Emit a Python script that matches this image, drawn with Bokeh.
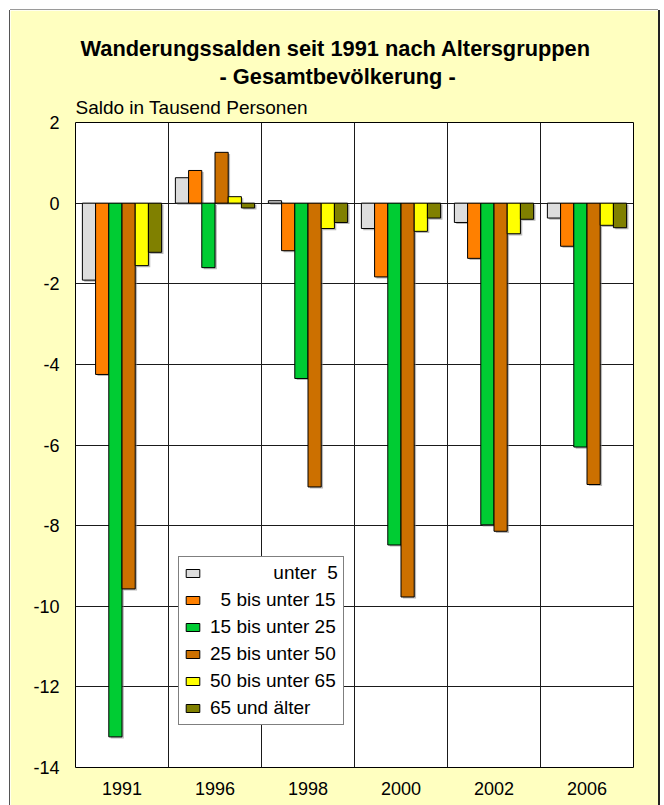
from bokeh.plotting import figure
from bokeh.models import Range1d, FixedTicker, Title, Legend, LegendItem, ColumnDataSource
from bokeh.embed import file_html
from bokeh.resources import INLINE

years = ["1991", "1996", "1998", "2000", "2002", "2006"]
groups = ["            unter  5", "  5 bis unter 15", "15 bis unter 25",
          "25 bis unter 50", "50 bis unter 65", "65 und älter"]
colors = ["#DDDDDD", "#FF8000", "#00CC33", "#CC7000", "#FFFF00", "#808000"]

unter_5 = [-1.91, 0.63, 0.06, -0.63, -0.48, -0.37]
von_5_bis_15 = [-4.25, 0.81, -1.18, -1.83, -1.37, -1.07]
von_15_bis_25 = [-13.24, -1.60, -4.35, -8.48, -7.98, -6.05]
von_25_bis_50 = [-9.57, 1.26, -7.04, -9.77, -8.14, -6.98]
von_50_bis_65 = [-1.55, 0.16, -0.63, -0.70, -0.76, -0.55]
ab_65 = [-1.22, -0.12, -0.48, -0.37, -0.40, -0.61]
series = [unter_5, von_5_bis_15, von_15_bis_25, von_25_bis_50, von_50_bis_65, ab_65]

y_ticks = [-14, -12, -10, -8, -6, -4, -2, 0, 2]

title_1 = "Wanderungssalden seit 1991 nach Altersgruppen"
title_2 = "- Gesamtbevölkerung -"
y_label = "Saldo in Tausend Personen"

FONT = "Liberation Sans"
BAR_W = 0.142

p = figure(width=648, height=795, x_range=Range1d(0, len(years)), y_range=Range1d(-14, 2),
           output_backend="svg", toolbar_location=None, title=None,
           min_border_left=65, min_border_right=25, min_border_top=112, min_border_bottom=38,
           background_fill_color="white", border_fill_color="#FFFFC0",
           outline_line_color="black", outline_line_width=1,
           margin=(10, 0, 0, 10),
           styles={"box-shadow": "0 -1px 0 #9a9a9a, -1px 0 0 #555555, 2px 0 0 #222222"})

# grids
p.xgrid.ticker = FixedTicker(ticks=list(range(1, len(years))))
p.ygrid.ticker = FixedTicker(ticks=y_ticks)
for g in (p.xgrid, p.ygrid):
    g.grid_line_color = "#1a1a1a"
    g.grid_line_width = 1

# bars (shadow first)
centers = [i + 0.5 for i in range(len(years))]
sh_x, sh_top, sh_bot = [], [], []
bar_sources = []
for j, vals in enumerate(series):
    xs = [c + (j - 2.5) * BAR_W for c in centers]
    bar_sources.append(ColumnDataSource(dict(x=xs, top=vals, bottom=[0] * len(vals))))
    for x, v in zip(xs, vals):
        sh_x.append(x + 0.02)
        sh_top.append(max(v, 0) - 0.04)
        sh_bot.append(min(v, 0) - 0.04)
p.vbar(x=sh_x, top=sh_top, bottom=sh_bot, width=BAR_W, fill_color="#808080",
       fill_alpha=0.55, line_color=None)

items = []
for j, src in enumerate(bar_sources):
    r = p.vbar(x="x", top="top", bottom="bottom", width=BAR_W, source=src,
               fill_color=colors[j], line_color="black", line_width=1)
    items.append(LegendItem(label=groups[j].replace(" ", "\u00a0"), renderers=[r]))

legend = Legend(items=items, location=(103, 42), border_line_color="black", border_line_width=1,
                background_fill_color="white", background_fill_alpha=1.0,
                glyph_width=17, glyph_height=10, label_standoff=9, label_height=21,
                label_width=128, spacing=5, padding=5, margin=0,
                label_text_font=FONT, label_text_font_size="19px", label_text_color="black")
p.add_layout(legend, "center")

# axes
p.xaxis.ticker = FixedTicker(ticks=centers)
p.xaxis.major_label_overrides = {c: y for c, y in zip(centers, years)}
p.yaxis.ticker = FixedTicker(ticks=y_ticks)
p.yaxis.major_label_overrides = {t: str(t) for t in y_ticks}
for ax in (p.xaxis, p.yaxis):
    ax.axis_line_color = None
    ax.major_tick_line_color = None
    ax.minor_tick_line_color = None
    ax.major_tick_in = 0
    ax.major_tick_out = 0
    ax.major_label_text_font = FONT
    ax.major_label_text_font_size = "18px"
    ax.major_label_text_color = "black"
p.xaxis.major_label_standoff = 14
p.yaxis.major_label_standoff = 16

# titles (first added is nearest to the frame)
p.add_layout(Title(text=y_label, align="left", text_font=FONT, text_font_size="19px",
                   text_font_style="normal", text_color="black", standoff=9), "above")
p.add_layout(Title(text=title_2, align="left", offset=144, text_font=FONT,
                   text_font_size="21.8px", text_font_style="bold", text_color="black",
                   standoff=4), "above")
p.add_layout(Title(text=title_1, align="left", offset=5, text_font=FONT,
                   text_font_size="21.8px", text_font_style="bold", text_color="black",
                   standoff=-2), "above")

open("out.html", "w").write(file_html(p, INLINE))
